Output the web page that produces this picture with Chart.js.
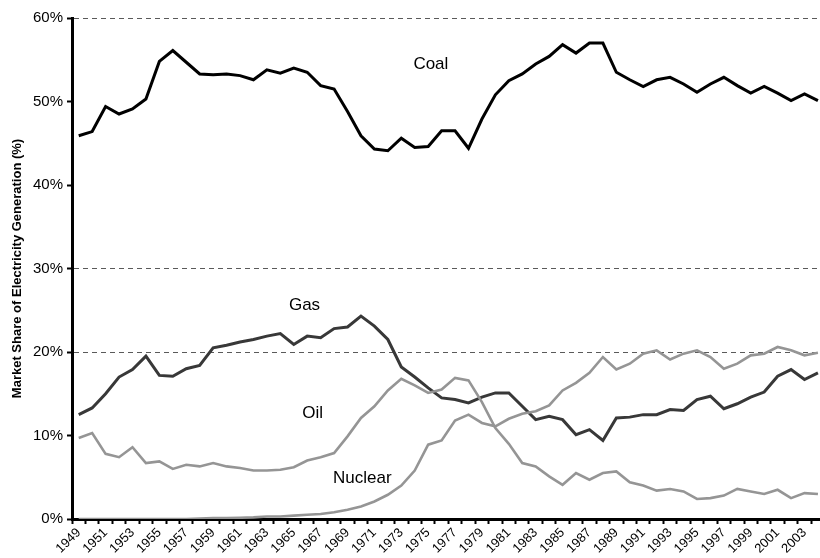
<!DOCTYPE html>
<html>
<head>
<meta charset="utf-8">
<script src="https://cdn.jsdelivr.net/npm/chart.js@4.4.1/dist/chart.umd.min.js"></script>
<style>
  html, body { margin: 0; padding: 0; background: #fff; overflow: hidden; width: 820px; height: 558px; }
  canvas { display: block; }
</style>
</head>
<body>
<canvas id="c" width="830" height="558"></canvas>
<script>
// Years 1949-2004
const years = [];
for (let y = 1949; y <= 2004; y++) years.push(String(y));

const yTicks = [0, 10, 20, 30, 40, 50, 60];
const dashedGridValues = [20, 30, 60];

const coal = [
  45.9, 46.4, 49.4, 48.5, 49.1, 50.3, 54.8, 56.1, 54.7, 53.3, 53.2, 53.3, 53.1, 52.6,
  53.8, 53.4, 54.0, 53.5, 51.9, 51.5, 48.8, 45.9, 44.3, 44.1, 45.6, 44.5, 44.6, 46.5,
  46.5, 44.4, 47.9, 50.8, 52.5, 53.3, 54.5, 55.4, 56.8, 55.8, 57.0, 57.0, 53.5, 52.6,
  51.8, 52.6, 52.9, 52.1, 51.1, 52.1, 52.9, 51.9, 51.0, 51.8, 51.0, 50.1, 50.9, 50.1
];
const gas = [
  12.5, 13.3, 15.0, 17.0, 17.9, 19.5, 17.2, 17.1, 18.0, 18.4, 20.5, 20.8, 21.2, 21.5,
  21.9, 22.2, 20.9, 21.9, 21.7, 22.8, 23.0, 24.3, 23.1, 21.5, 18.2, 17.0, 15.7, 14.5,
  14.3, 13.9, 14.6, 15.1, 15.1, 13.5, 11.9, 12.3, 11.9, 10.1, 10.7, 9.4, 12.1, 12.2,
  12.5, 12.5, 13.1, 13.0, 14.3, 14.7, 13.2, 13.8, 14.6, 15.2, 17.1, 17.9, 16.7, 17.5
];
const oil = [
  9.7, 10.3, 7.8, 7.4, 8.6, 6.7, 6.9, 6.0, 6.5, 6.3, 6.7, 6.3, 6.1, 5.8,
  5.8, 5.9, 6.2, 7.0, 7.4, 7.9, 9.9, 12.1, 13.5, 15.4, 16.8, 16.0, 15.1, 15.5,
  16.9, 16.6, 14.0, 10.9, 9.0, 6.7, 6.3, 5.1, 4.1, 5.5, 4.7, 5.5, 5.7, 4.4,
  4.0, 3.4, 3.6, 3.3, 2.4, 2.5, 2.8, 3.6, 3.3, 3.0, 3.5, 2.5, 3.1, 3.0
];
const nuclear = [
  0, 0, 0, 0, 0, 0, 0, 0, 0, 0.05, 0.1, 0.1, 0.15, 0.2,
  0.3, 0.3, 0.4, 0.5, 0.6, 0.8, 1.1, 1.5, 2.1, 2.9, 4.0, 5.8, 8.9, 9.4,
  11.8, 12.5, 11.5, 11.1, 12.0, 12.6, 12.9, 13.6, 15.4, 16.3, 17.5, 19.4, 17.9, 18.6,
  19.8, 20.2, 19.1, 19.8, 20.2, 19.4, 18.0, 18.6, 19.6, 19.8, 20.6, 20.2, 19.6, 19.9
];

// Series labels anchored in data coordinates (category index, value)
const seriesLabels = [
  { text: 'Coal', idx: 26.2, val: 54.4 },
  { text: 'Gas', idx: 16.8, val: 25.6 },
  { text: 'Oil', idx: 17.4, val: 12.7 },
  { text: 'Nuclear', idx: 21.1, val: 4.9 }
];

const FONT = "'Liberation Sans', Arial, Helvetica, sans-serif";

const labelPlugin = {
  id: 'seriesLabels',
  afterDatasetsDraw(chart) {
    const { ctx, scales: { x, y } } = chart;
    ctx.save();
    ctx.fillStyle = '#000';
    ctx.font = '17px ' + FONT;
    ctx.textAlign = 'center';
    ctx.textBaseline = 'middle';
    seriesLabels.forEach(l => {
      ctx.fillText(l.text, x.getPixelForValue(l.idx), y.getPixelForValue(l.val));
    });
    ctx.restore();
  }
};

new Chart(document.getElementById('c'), {
  type: 'line',
  data: {
    labels: years,
    datasets: [
      { label: 'Nuclear', data: nuclear, borderColor: '#959595', borderWidth: 2.6 },
      { label: 'Oil', data: oil, borderColor: '#959595', borderWidth: 2.6 },
      { label: 'Gas', data: gas, borderColor: '#383838', borderWidth: 3 },
      { label: 'Coal', data: coal, borderColor: '#000000', borderWidth: 3 }
    ]
  },
  options: {
    responsive: false,
    animation: false,
    devicePixelRatio: 1,
    layout: { padding: { top: 18, right: 3, left: 0, bottom: 0 } },
    elements: {
      point: { radius: 0 },
      line: { tension: 0, borderJoinStyle: 'miter', fill: false }
    },
    plugins: {
      legend: { display: false },
      tooltip: { enabled: false }
    },
    scales: {
      x: {
        type: 'category',
        offset: true,
        afterFit(s) { s.height = 39; },
        grid: {
          offset: true,
          drawOnChartArea: false,
          drawTicks: true,
          tickLength: 5,
          tickWidth: 2,
          tickColor: '#000'
        },
        border: { display: true, color: '#000', width: 3 },
        ticks: {
          autoSkip: false,
          minRotation: 45,
          maxRotation: 45,
          padding: 1,
          color: '#000',
          font: { family: FONT, size: 13 },
          callback(value, index) {
            const yr = Number(years[index]);
            return (yr % 2 === 1) ? years[index] : '';
          }
        }
      },
      y: {
        min: 0,
        max: 60,
        afterFit(s) { s.width = 72; },
        afterBuildTicks(s) { s.ticks = yTicks.map(v => ({ value: v })); },
        grid: {
          drawOnChartArea: true,
          color(ctx) {
            return dashedGridValues.includes(ctx.tick && ctx.tick.value) ? '#5a5a5a' : 'rgba(0,0,0,0)';
          },
          lineWidth: 1,
          drawTicks: true,
          tickLength: 5,
          tickWidth: 2,
          tickColor: '#000'
        },
        border: { display: true, color: '#000', width: 3, dash: [5, 4] },
        ticks: {
          padding: 4,
          color: '#000',
          font: { family: FONT, size: 15 },
          callback(v) { return v + '%'; }
        },
        title: {
          display: true,
          text: 'Market Share of Electricity Generation (%)',
          color: '#000',
          font: { family: FONT, size: 13, weight: 'bold' },
          padding: { top: 10, bottom: 0 }
        }
      }
    }
  },
  plugins: [labelPlugin]
});
</script>
</body>
</html>
